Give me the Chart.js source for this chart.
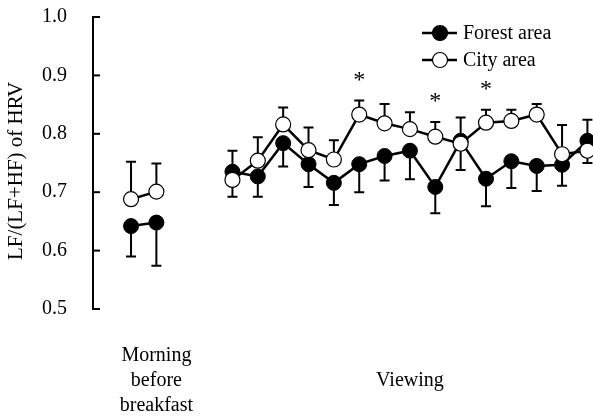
<!DOCTYPE html>
<html>
<head>
<meta charset="utf-8">
<script src="https://cdn.jsdelivr.net/npm/chart.js@4.4.0/dist/chart.umd.min.js"></script>
<style>
  html, body { margin: 0; padding: 0; background: #fff; }
  #wrap { width: 593px; height: 418px; position: relative; }
</style>
</head>
<body>
<div id="wrap"><canvas id="c"></canvas></div>
<script>
// Measurement slots: 0-1 morning before breakfast, 2-3 empty gap, 4-18 viewing
const positions = [0, 1, 2, 3, 4, 5, 6, 7, 8, 9, 10, 11, 12, 13, 14, 15, 16, 17, 18];

// Mean LF/(LF+HF)
const forest = [0.642, 0.648, null, null, 0.735, 0.727, 0.784, 0.748, 0.716, 0.748, 0.762, 0.771, 0.709, 0.788, 0.723, 0.753, 0.745, 0.747, 0.788];
const city   = [0.688, 0.701, null, null, 0.721, 0.754, 0.816, 0.772, 0.756, 0.833, 0.818, 0.808, 0.795, 0.783, 0.819, 0.822, 0.833, 0.765, 0.771];

// Standard deviations (one-sided bars, pointing away from the other series)
const forestSD = [0.052, 0.074, null, null, 0.036, 0.035, 0.040, 0.039, 0.038, 0.048, 0.042, 0.049, 0.045, 0.040, 0.047, 0.046, 0.043, 0.036, 0.036];
const citySD   = [0.064, 0.048, null, null, 0.029, 0.040, 0.029, 0.039, 0.033, 0.024, 0.033, 0.029, 0.025, 0.045, 0.022, 0.019, 0.018, 0.050, 0.021];

// Slots with a significant forest/city difference
const significant = [9, 12, 14];

// Category labels along the bottom
const xTickValues = [1, 11];
const xTickLabels = [['Morning', 'before', 'breakfast'], ['', 'Viewing']];

const yTicks = [0.5, 0.6, 0.7, 0.8, 0.9, 1.0];

const FONT = 'Liberation Serif, Times New Roman, serif';

const toPoints = (arr) => arr.map((v, i) => ({ x: positions[i], y: v }));

const errorBars = {
  id: 'errorBars',
  beforeDatasetsDraw(chart) {
    const { ctx } = chart;
    const xs = chart.scales.x, ys = chart.scales.y;
    ctx.save();
    ctx.strokeStyle = '#000';
    ctx.lineWidth = 2;
    const cap = 5;
    positions.forEach((p, i) => {
      if (forest[i] == null) return;
      const forestUp = forest[i] > city[i];
      const pairs = [
        [forest[i], forestSD[i], forestUp ? 1 : -1],
        [city[i], citySD[i], forestUp ? -1 : 1]
      ];
      const x = xs.getPixelForValue(p);
      pairs.forEach(([m, sd, dir]) => {
        const y0 = ys.getPixelForValue(m);
        const y1 = ys.getPixelForValue(m + dir * sd);
        ctx.beginPath();
        ctx.moveTo(x, y0);
        ctx.lineTo(x, y1);
        ctx.moveTo(x - cap, y1);
        ctx.lineTo(x + cap, y1);
        ctx.stroke();
      });
    });
    ctx.restore();
  }
};

const decorations = {
  id: 'decorations',
  afterDraw(chart) {
    const { ctx, chartArea } = chart;
    const xs = chart.scales.x, ys = chart.scales.y;
    ctx.save();
    // inward tick marks on the y axis
    ctx.strokeStyle = '#000';
    ctx.lineWidth = 2;
    yTicks.forEach(v => {
      const y = ys.getPixelForValue(v);
      ctx.beginPath();
      ctx.moveTo(chartArea.left, y);
      ctx.lineTo(chartArea.left + 7, y);
      ctx.stroke();
    });

    // significance asterisks above the upper bars
    ctx.fillStyle = '#000';
    ctx.font = '24px ' + FONT;
    ctx.textAlign = 'center';
    ctx.textBaseline = 'middle';
    significant.forEach(i => {
      const top = Math.max(forest[i] + (forest[i] > city[i] ? forestSD[i] : 0),
                           city[i] + (city[i] >= forest[i] ? citySD[i] : 0));
      const x = xs.getPixelForValue(positions[i]);
      const y = ys.getPixelForValue(top) - 20;
      ctx.fillText('*', x, y);
    });

    // legend
    const entries = [chart.data.datasets[1], chart.data.datasets[0]];
    ctx.font = '20px ' + FONT;
    ctx.textAlign = 'left';
    ctx.textBaseline = 'middle';
    entries.forEach((ds, k) => {
      const y = 33 + k * 27;
      ctx.strokeStyle = '#000';
      ctx.lineWidth = 2.5;
      ctx.beginPath();
      ctx.moveTo(422, y);
      ctx.lineTo(457, y);
      ctx.stroke();
      ctx.beginPath();
      ctx.arc(440, y, 7.5, 0, Math.PI * 2);
      ctx.fillStyle = ds.pointBackgroundColor;
      ctx.fill();
      ctx.lineWidth = 1.2;
      ctx.stroke();
      ctx.fillStyle = '#000';
      ctx.fillText(ds.label, 463, y + 1);
    });
    ctx.restore();
  }
};

const zeroPad = (axis) => {
  axis.paddingTop = 0; axis.paddingBottom = 0;
  axis.paddingLeft = 0; axis.paddingRight = 0;
};

new Chart(document.getElementById('c'), {
  type: 'line',
  data: {
    datasets: [
      {
        label: 'City area',
        data: toPoints(city),
        borderColor: '#000',
        borderWidth: 2.5,
        pointRadius: 7.5,
        pointBackgroundColor: '#fff',
        pointBorderColor: '#000',
        pointBorderWidth: 1.2,
        spanGaps: false,
        tension: 0
      },
      {
        label: 'Forest area',
        data: toPoints(forest),
        borderColor: '#000',
        borderWidth: 2.5,
        pointRadius: 7.5,
        pointBackgroundColor: '#000',
        pointBorderColor: '#000',
        pointBorderWidth: 1,
        spanGaps: false,
        tension: 0
      }
    ]
  },
  options: {
    responsive: true,
    maintainAspectRatio: false,
    animation: false,
    layout: { autoPadding: false, padding: { left: 5, top: 17, right: 0, bottom: 0 } },
    plugins: { legend: { display: false }, tooltip: { enabled: false } },
    scales: {
      x: {
        type: 'linear',
        min: -1.5,
        max: 18.22,
        grid: { display: false, drawTicks: false },
        border: { display: false },
        afterBuildTicks(axis) { axis.ticks = xTickValues.map(v => ({ value: v })); },
        afterFit(axis) { axis.height = 109; zeroPad(axis); },
        ticks: {
          autoSkip: false,
          maxRotation: 0,
          padding: 34,
          color: '#000',
          font: { family: FONT, size: 20, lineHeight: 1.25 },
          callback(v) { const k = xTickValues.indexOf(v); return k >= 0 ? xTickLabels[k] : ''; }
        }
      },
      y: {
        min: 0.5,
        max: 1.0,
        grid: { display: false, drawTicks: false },
        border: { display: true, color: '#000', width: 2 },
        afterBuildTicks(axis) { axis.ticks = yTicks.map(v => ({ value: v })); },
        afterFit(axis) { axis.width = 88; zeroPad(axis); },
        ticks: {
          padding: 26,
          color: '#000',
          font: { family: FONT, size: 20 },
          callback(v) { return v.toFixed(1); }
        },
        title: {
          display: true,
          text: 'LF/(LF+HF) of HRV   ',
          color: '#000',
          font: { family: FONT, size: 21, lineHeight: 1.1 },
          padding: { top: 0, bottom: 0 }
        }
      }
    }
  },
  plugins: [errorBars, decorations]
});
</script>
</body>
</html>
